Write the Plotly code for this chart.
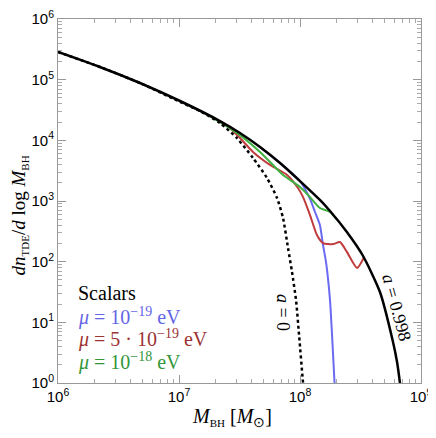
import plotly.graph_objects as go

# black solid, spin a = 0.998
m_spin = [1.0e6, 2.22e6, 4.76e6, 1.02e7, 2.18e7, 3.19e7, 4.67e7, 6.84e7, 1.0e8,
          1.46e8, 1.77e8, 2.44e8, 3.32e8, 4.58e8, 5.87e8, 6.34e8, 6.7e8, 6.9e8]
n_spin = [2.86e5, 1.62e5, 8.81e4, 4.45e4, 2.08e4, 1.32e4, 7.77e3, 4.23e3, 2.13e3,
          1.04e3, 684, 308, 124, 31.6, 4.74, 2.22, 1.0, 0.6]

# black dotted, a = 0
m_zero = [1.0e6, 2.22e6, 4.76e6, 1.02e7, 1.49e7, 2.18e7, 3.01e7, 4.09e7, 5.34e7,
          6.46e7, 7.24e7, 7.96e7, 8.59e7, 9.27e7, 9.82e7, 1.06e8, 1.09e8]
n_zero = [2.86e5, 1.62e5, 8.81e4, 4.3e4, 3.05e4, 1.93e4, 1.09e4, 5.12e3, 2.39e3,
          1.12e3, 525, 168, 67.6, 23.3, 6.2, 1.0, 0.6]

# mu = 1e-19 eV
m_blue = [4.67e7, 6.84e7, 1.0e8, 1.10e8, 1.21e8, 1.33e8, 1.46e8, 1.55e8, 1.64e8,
          1.77e8, 1.84e8, 1.93e8, 1.96e8]
n_blue = [7.77e3, 4.23e3, 2.13e3, 1.58e3, 1.08e3, 659, 403, 188, 98.9,
          23.3, 6.2, 1.0, 0.6]

# mu = 5e-19 eV
m_red = [2.18e7, 2.49e7, 3.19e7, 4.09e7, 5.65e7, 7.82e7, 9.62e7, 1.06e8, 1.21e8,
         1.38e8, 1.55e8, 1.88e8, 2.14e8, 2.44e8, 2.96e8, 3.36e8]
n_red = [2.08e4, 1.75e4, 1.09e4, 6.43e3, 3.93e3, 2.69e3, 1.64e3, 1.16e3, 587,
         275, 203, 195, 211, 145, 78.7, 115]

# mu = 1e-18 eV
m_green = [1.02e7, 1.49e7, 2.18e7, 3.19e7, 4.67e7, 5.98e7, 7.24e7, 1.0e8, 1.21e8,
           1.46e8, 1.77e8, 2.02e8]
n_green = [4.4e4, 3.05e4, 2.0e4, 1.22e4, 6.43e3, 3.93e3, 2.69e3, 1.70e3, 1.16e3,
           766, 660, 494]

x_decades = [6, 7, 8, 9]
y_decades = [0, 1, 2, 3, 4, 5, 6]

legend_lines = ["Scalars",
                "<i>μ</i> = 10<sup>−19</sup> eV",
                "<i>μ</i> = 5 · 10<sup>−19</sup> eV",
                "<i>μ</i> = 10<sup>−18</sup> eV"]
legend_colors = ["black", "#6464e6", "#9c3434", "#33963a"]

SERIF = "Liberation Serif"
SANS = "Liberation Sans"


def minor_vals(decades):
    return [k * 10 ** d for d in decades[:-1] for k in range(2, 10)]


def small_sub(s):
    return f"<sub><span style='font-size:11px'>{s}</span></sub>"


fig = go.Figure()

line_kw = dict(shape="spline", smoothing=0.6)
fig.add_trace(go.Scatter(x=m_blue, y=n_blue, mode="lines",
                         line=dict(color="#6a6af2", width=2, **line_kw)))
fig.add_trace(go.Scatter(x=m_red, y=n_red, mode="lines",
                         line=dict(color="#c03c3c", width=2, **line_kw)))
fig.add_trace(go.Scatter(x=m_green, y=n_green, mode="lines",
                         line=dict(color="#40b040", width=2, **line_kw)))
fig.add_trace(go.Scatter(x=m_zero, y=n_zero, mode="lines",
                         line=dict(color="black", width=2.5, dash="dot", **line_kw)))
fig.add_trace(go.Scatter(x=m_spin, y=n_spin, mode="lines",
                         line=dict(color="black", width=2.5, **line_kw)))
# empty trace so the minor-tick axes get drawn
fig.add_trace(go.Scatter(x=[], y=[], xaxis="x2", yaxis="y2", hoverinfo="skip"))

axis_common = dict(
    type="log", showgrid=False, zeroline=False, automargin=False,
    showline=True, linecolor="#999999", linewidth=1, mirror="allticks",
    ticks="inside", ticklen=8, tickcolor="#999999", ticklabeloverflow="allow",
    tickfont=dict(family=SANS, size=15, color="black"),
)
minor_common = dict(
    type="log", showgrid=False, zeroline=False, automargin=False,
    showline=False, mirror="allticks", showticklabels=False,
    ticks="inside", ticklen=4, tickcolor="#aaaaaa",
)

fig.update_layout(
    xaxis=dict(range=[6, 9], tickvals=[10 ** d for d in x_decades],
               ticktext=[f"10<sup>{d}</sup>" for d in x_decades], **axis_common),
    yaxis=dict(range=[0, 6], tickvals=[10 ** d for d in y_decades],
               ticktext=[f"10<sup>{d}</sup>" for d in y_decades], **axis_common),
    xaxis2=dict(range=[6, 9], overlaying="x", tickvals=minor_vals(x_decades), **minor_common),
    yaxis2=dict(range=[0, 6], overlaying="y", tickvals=minor_vals(y_decades), **minor_common),
)

annotations = []
for i, (txt, col) in enumerate(zip(legend_lines, legend_colors)):
    annotations.append(dict(
        x=0.05, y=0.247 - i * 0.063, xref="paper", yref="paper",
        text=txt, showarrow=False, xanchor="left", yanchor="middle",
        font=dict(family=SERIF, size=20, color=col)))

annotations.append(dict(x=7.86, y=1.17, text="<i>a</i> = 0", showarrow=False,
                        xanchor="center", yanchor="middle",
                        textangle=90, font=dict(family=SERIF, size=18, color="black")))
annotations.append(dict(x=8.80, y=1.236, text="<i>a</i> = 0.998", showarrow=False,
                        xanchor="center", yanchor="middle",
                        textangle=75, font=dict(family=SERIF, size=18, color="black")))

annotations.append(dict(
    x=0.48, y=-0.095, xref="paper", yref="paper", showarrow=False,
    xanchor="center", yanchor="middle",
    text="<i>M</i>" + small_sub("BH") + " [<i>M</i><sub>⊙</sub>]",
    font=dict(family=SERIF, size=20, color="black")))
annotations.append(dict(
    x=-0.105, y=0.46, xref="paper", yref="paper", showarrow=False, textangle=-90,
    xanchor="center", yanchor="middle",
    text="<i>dn</i>" + small_sub("TDE") + "/<i>d</i> log <i>M</i>" + small_sub("BH"),
    font=dict(family=SERIF, size=19, color="black")))

# the page body adds an 8px offset, so margins are shifted to compensate
fig.update_layout(
    width=436, height=438,
    margin=dict(l=50, r=23, t=11, b=63),
    paper_bgcolor="white", plot_bgcolor="white",
    showlegend=False,
    annotations=annotations,
)

fig.write_html("out.html")
